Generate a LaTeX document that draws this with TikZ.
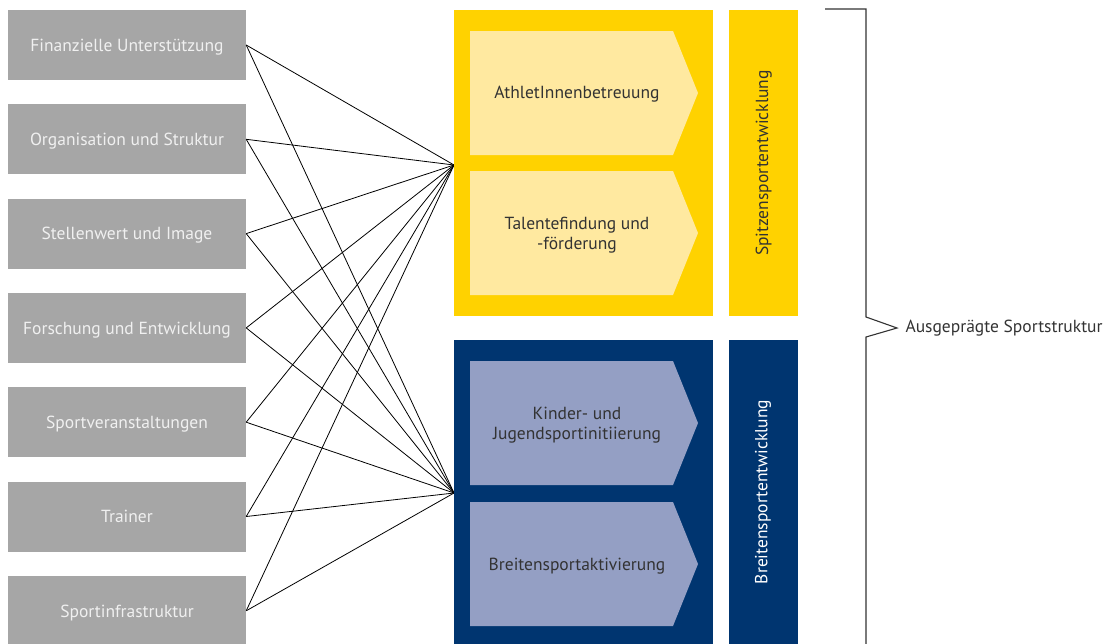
\documentclass[tikz,border=0pt]{standalone}
\usepackage{fontspec}
\setmainfont{PT Sans}
\definecolor{eyyellow}{HTML}{FFD200}
\definecolor{paleyellow}{HTML}{FFE9A0}
\definecolor{eynavy}{HTML}{003570}
\definecolor{palenavy}{HTML}{949FC4}
\definecolor{boxgray}{HTML}{A6A6A6}
\definecolor{txtdark}{HTML}{333333}
\tikzset{
  factor/.style={fill=boxgray, text=white!94!black, minimum width=238pt, minimum height=70pt, inner sep=0pt, text depth=0pt},
  panel/.style={anchor=north west, inner sep=0pt},
  fanline/.style={line width=0.8pt, black},
  label/.style={text=txtdark, align=center}
}
\begin{document}
\begin{tikzpicture}[x=1pt,y=-1pt,font=\fontsize{17.5}{20}\selectfont]
\useasboundingbox (0,0) rectangle (1113,643);
% Faktoren links
\foreach \i/\txt in {0/Finanzielle Unterstützung,1/Organisation und Struktur,2/Stellenwert und Image,3/Forschung und Entwicklung,4/Sportveranstaltungen,5/Trainer,6/Sportinfrastruktur}
  \node[factor] (f\i) at (127,45+94.3*\i) {\txt};
\coordinate (spitze) at (454,165);
\coordinate (breite) at (454,493);
\foreach \i in {0,...,6}{
  \draw[fanline] (f\i.east) -- (spitze);
  \draw[fanline] (f\i.east) -- (breite);
}
% Spitzensport
\node[panel, fill=eyyellow, minimum width=259pt, minimum height=306pt] (gelb) at (454,10) {};
\node[panel, fill=eyyellow, minimum width=69pt, minimum height=306pt] (gelbstreifen) at (729,10) {};
\node[label, rotate=90] at (gelbstreifen.center) {Spitzensportentwicklung};
\fill[paleyellow] (470,31) -- (673,31) -- (698,93) -- (673,155) -- (470,155) -- cycle;
\node[label] (athlet) at (577,94) {AthletInnenbetreuung};
\fill[paleyellow] (470,171) -- (673,171) -- (698,233) -- (673,295) -- (470,295) -- cycle;
\node[label] (talent) at (577,235) {Talentefindung und\\-förderung};
% Breitensport
\node[panel, fill=eynavy, minimum width=259pt, minimum height=310pt] (blau) at (454,340) {};
\node[panel, fill=eynavy, minimum width=69pt, minimum height=310pt] (blaustreifen) at (729,340) {};
\node[label, rotate=90, text=white] at (763,492) {Breitensportentwicklung};
\fill[palenavy] (470,361) -- (673,361) -- (698,423) -- (673,485) -- (470,485) -- cycle;
\node[label] (kinder) at (577,425) {Kinder- und\\Jugendsportinitiierung};
\fill[palenavy] (470,502) -- (673,502) -- (698,564) -- (673,626) -- (470,626) -- cycle;
\node[label] (aktiv) at (577,566) {Breitensportaktivierung};
% Klammer
\draw[line width=1.1pt, txtdark] (825,9) -- (866,9) -- (866,317) -- (897,328) -- (866,337) -- (866,650);
\node[label, anchor=west] (struktur) at (902,328) {Ausgeprägte Sportstruktur};
\end{tikzpicture}
\end{document}
